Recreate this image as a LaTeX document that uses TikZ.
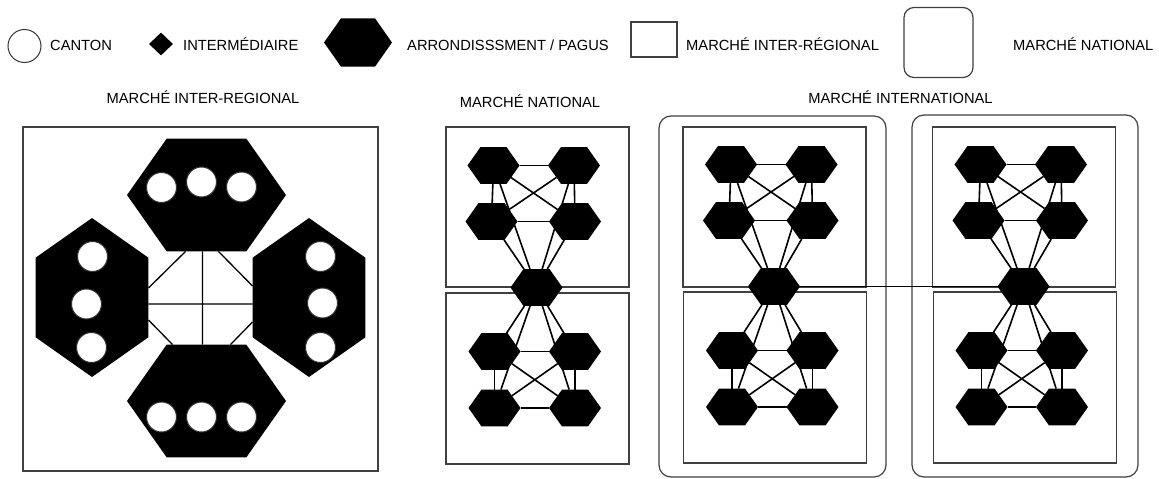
\documentclass[tikz,border=0pt]{standalone}
\usepackage{fontspec}
\setmainfont{Liberation Sans}
\usetikzlibrary{positioning, shapes.geometric}

\begin{document}
\begin{tikzpicture}[x=1pt,y=-1pt,on grid,font=\fontsize{14.7pt}{17pt}\selectfont,
      pagus/.style={regular polygon,regular polygon sides=6,fill=black,draw=none,
        inner sep=0pt,outer sep=0pt,minimum size=#1,yscale=0.82},
      canton/.style={circle,draw=black!80,fill=white,line width=1pt,inner sep=0pt,minimum size=#1},
      inter/.style={diamond,fill=black,inner sep=0pt,minimum width=24pt,minimum height=23pt},
      region/.style={draw=black!75,line width=1.2pt,inner sep=0pt,outer sep=0pt,
        minimum width=183pt,minimum height=#1},
      nation/.style={region=#1,rounded corners=12pt},
      link/.style={line width=1.6pt},
      lbl/.style={inner sep=0pt,anchor=base west}]
  \useasboundingbox (0,0) rectangle (1159,479);

  \node[canton=33pt] (l_1) at (24.5,46) {};
  \node[lbl] (t_1) at (50,50) {CANTON};
  \node[inter] (l_2) at (161,44) {};
  \node[lbl] (t_2) at (183,50) {INTERMÉDIAIRE};
  \node[pagus=68] (l_3) at (358,42.5) {};
  \node[lbl] (t_3) at (407,50) {ARRONDISSSMENT / PAGUS};
  \node[region=35pt,minimum width=46pt] (l_4) at (654,39.5) {};
  \node[lbl] (t_4) at (686,50) {MARCHÉ INTER-RÉGIONAL};
  \node[nation=70pt,minimum width=69pt,rounded corners=10pt] (l_5) at (938.5,42.5) {};
  \node[lbl] (t_5) at (1013,50) {MARCHÉ NATIONAL};

  \node[inner sep=0pt,anchor=base] (h_1) at (203,103) {MARCHÉ INTER-REGIONAL};
  \node[inner sep=0pt,anchor=base] (h_2) at (530,107) {MARCHÉ NATIONAL};
  \node[inner sep=0pt,anchor=base] (h_3) at (900.5,103) {MARCHÉ INTERNATIONAL};

  \node[region=344pt,minimum width=355pt] (m_r) at (200.5,299) {};
  \node[pagus=159] (r_1) at (206.5,195) {};
  \node[pagus=159] (r_2) at (206.5,401) {};
  \node[rotate=90,pagus=159] (r_3) at (92,297.5) {};
  \node[rotate=90,pagus=159] (r_4) at (309,297.5) {};
  \draw[line width=1.3pt] ([xshift=-4pt]r_1.270) -- ([xshift=-4pt]r_2.90)
    ([yshift=-6.5pt]r_3.270) -- ([yshift=-6.5pt]r_4.90)
    ([xshift=-21pt]r_1.270) -- ([yshift=9.5pt]r_3.270)
    ([xshift=12pt]r_1.270) -- ([yshift=11.5pt]r_4.90)
    ([yshift=-22.5pt]r_3.270) -- ([xshift=-34pt]r_2.90)
    ([yshift=-24.5pt]r_4.90) -- ([xshift=24pt]r_2.90);
  \node[canton=30pt] (c_1) at (161.5,187.5) {};
  \node[canton=30pt] (c_2) at (201.5,182) {};
  \node[canton=30pt] (c_3) at (241.5,187) {};
  \node[canton=30pt] (c_4) at (161.5,417) {};
  \node[canton=30pt] (c_5) at (201.5,417) {};
  \node[canton=30pt] (c_6) at (241.5,417) {};
  \node[canton=30pt] (c_7) at (92.5,256.5) {};
  \node[canton=30pt] (c_8) at (86.5,304) {};
  \node[canton=30pt] (c_9) at (91.5,347.5) {};
  \node[canton=30pt] (c_10) at (320.5,256.5) {};
  \node[canton=30pt] (c_11) at (322.5,303) {};
  \node[canton=30pt] (c_12) at (320.5,347.5) {};

  \node[region=160pt] (n_u) at (537.5,207) {};
  \node[region=171pt] (n_l) at (537.5,378.5) {};
  \node[pagus=52] (n_0) at (536.5,287.5) {};
  \node[pagus=52] (n_1) [above left=122pt and 43pt of n_0] {};
  \node[pagus=52] (n_2) [above right=122pt and 37.5pt of n_0] {};
  \node[pagus=52] (n_3) [above left=66pt and 45pt of n_0] {};
  \node[pagus=52] (n_4) [above right=66pt and 38.5pt of n_0] {};
  \node[pagus=52] (n_5) [below left=64pt and 42pt of n_0] {};
  \node[pagus=52] (n_6) [below right=64pt and 38.5pt of n_0] {};
  \node[pagus=52] (n_7) [below left=120.5pt and 42pt of n_0] {};
  \node[pagus=52] (n_8) [below right=120.5pt and 38.5pt of n_0] {};
  \path[link] (n_1) edge (n_2) edge (n_3) edge (n_4) edge (n_0)
    (n_2) edge (n_3) edge (n_4) edge (n_0)
    (n_3) edge (n_4) edge (n_0) (n_4) edge (n_0)
    (n_5) edge (n_6) edge (n_7) edge (n_8) edge (n_0)
    (n_6) edge (n_7) edge (n_8) edge (n_0)
    (n_7) edge (n_8) edge (n_0) (n_8) edge (n_0);

  \node[nation=361pt,minimum width=227pt] (a_m) at (772.5,296.5) {};
  \node[region=160pt] (a_u) at (774.5,207) {};
  \node[region=171pt] (a_l) at (775,377.5) {};
  \node[pagus=52] (a_0) at (774,286.5) {};
  \node[pagus=52] (a_1) [above left=122pt and 43pt of a_0] {};
  \node[pagus=52] (a_2) [above right=122pt and 37.5pt of a_0] {};
  \node[pagus=52] (a_3) [above left=66pt and 45pt of a_0] {};
  \node[pagus=52] (a_4) [above right=66pt and 38.5pt of a_0] {};
  \node[pagus=52] (a_5) [below left=64pt and 42pt of a_0] {};
  \node[pagus=52] (a_6) [below right=64pt and 38.5pt of a_0] {};
  \node[pagus=52] (a_7) [below left=120.5pt and 42pt of a_0] {};
  \node[pagus=52] (a_8) [below right=120.5pt and 38.5pt of a_0] {};
  \path[link] (a_1) edge (a_2) edge (a_3) edge (a_4) edge (a_0)
    (a_2) edge (a_3) edge (a_4) edge (a_0)
    (a_3) edge (a_4) edge (a_0) (a_4) edge (a_0)
    (a_5) edge (a_6) edge (a_7) edge (a_8) edge (a_0)
    (a_6) edge (a_7) edge (a_8) edge (a_0)
    (a_7) edge (a_8) edge (a_0) (a_8) edge (a_0);

  \node[nation=362pt,minimum width=226pt] (b_m) at (1025,296) {};
  \node[region=160pt] (b_u) at (1024,207) {};
  \node[region=171pt] (b_l) at (1025,377.5) {};
  \node[pagus=52] (b_0) at (1023.5,286.5) {};
  \node[pagus=52] (b_1) [above left=122pt and 43pt of b_0] {};
  \node[pagus=52] (b_2) [above right=122pt and 37.5pt of b_0] {};
  \node[pagus=52] (b_3) [above left=66pt and 45pt of b_0] {};
  \node[pagus=52] (b_4) [above right=66pt and 38.5pt of b_0] {};
  \node[pagus=52] (b_5) [below left=64pt and 42pt of b_0] {};
  \node[pagus=52] (b_6) [below right=64pt and 38.5pt of b_0] {};
  \node[pagus=52] (b_7) [below left=120.5pt and 42pt of b_0] {};
  \node[pagus=52] (b_8) [below right=120.5pt and 38.5pt of b_0] {};
  \path[link] (b_1) edge (b_2) edge (b_3) edge (b_4) edge (b_0)
    (b_2) edge (b_3) edge (b_4) edge (b_0)
    (b_3) edge (b_4) edge (b_0) (b_4) edge (b_0)
    (b_5) edge (b_6) edge (b_7) edge (b_8) edge (b_0)
    (b_6) edge (b_7) edge (b_8) edge (b_0)
    (b_7) edge (b_8) edge (b_0) (b_8) edge (b_0);

  \draw[line width=1.3pt] (a_0) -- (b_0);
\end{tikzpicture}
\end{document}
